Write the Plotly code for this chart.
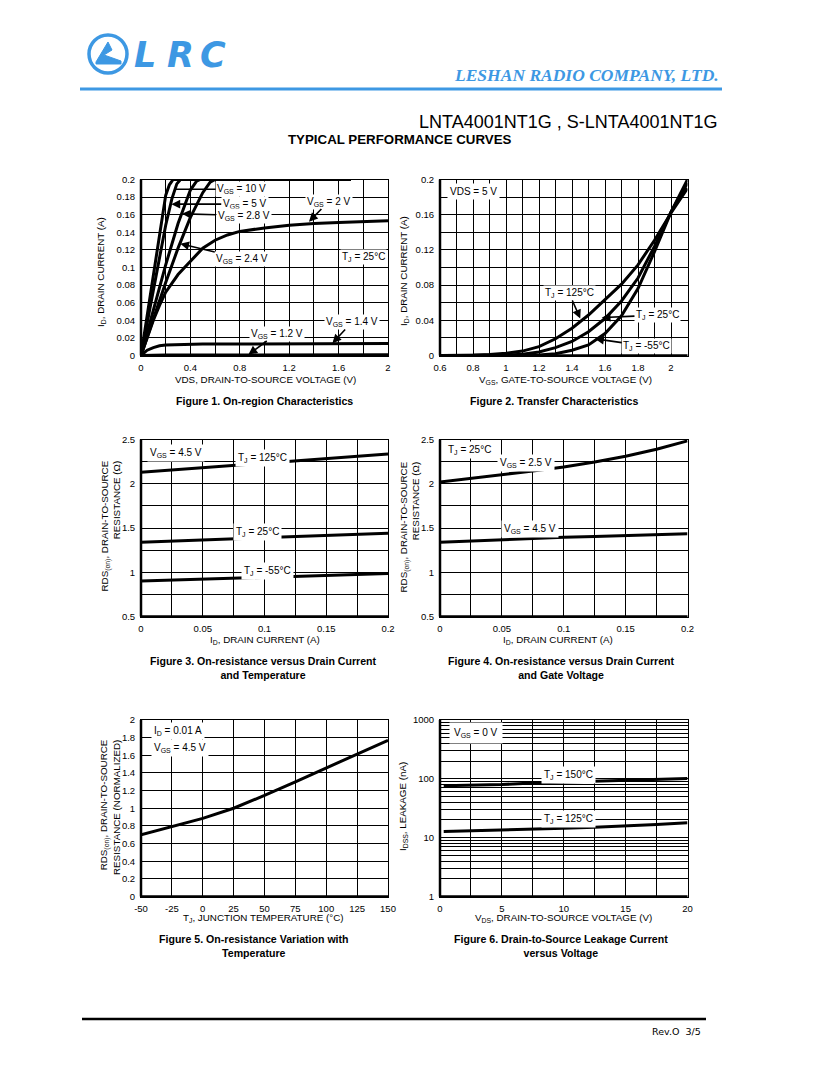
import plotly.graph_objects as go

W, H = 817, 1079
SANS = "Liberation Sans"
SERIF = "Liberation Serif"
BLUE = "#3d98e3"

# ---------------- data ----------------
# Figure 1: On-region characteristics (VDS [V] -> ID [A])
f1_vds_10v = [0, 0.1, 0.17, 0.2, 0.23, 0.26, 1.7]
f1_id_10v = [0, 0.092, 0.16, 0.182, 0.194, 0.2, 0.2]
f1_vds_5v = [0, 0.1, 0.2, 0.25, 0.29, 0.32, 1.7]
f1_id_5v = [0, 0.075, 0.148, 0.178, 0.195, 0.2, 0.2]
f1_vds_2v8 = [0, 0.1, 0.2, 0.3, 0.35, 0.4, 0.45, 0.48, 1.7]
f1_id_2v8 = [0, 0.052, 0.103, 0.15, 0.17, 0.188, 0.198, 0.2, 0.2]
f1_vds_2v4 = [0, 0.1, 0.2, 0.3, 0.4, 0.5, 0.56, 0.6, 1.7]
f1_id_2v4 = [0, 0.042, 0.083, 0.122, 0.157, 0.185, 0.197, 0.2, 0.2]
f1_vds_2v = [0, 0.05, 0.1, 0.15, 0.2, 0.3, 0.4, 0.5, 0.6, 0.7, 0.8, 1.0, 1.2, 1.4, 1.6, 1.8, 2.0]
f1_id_2v = [0, 0.02, 0.04, 0.057, 0.072, 0.092, 0.107, 0.122, 0.131, 0.137, 0.141, 0.145, 0.148, 0.15, 0.151, 0.152, 0.153]
f1_vds_1v4 = [0, 0.05, 0.1, 0.15, 0.2, 0.3, 0.5, 2.0]
f1_id_1v4 = [0, 0.006, 0.009, 0.011, 0.012, 0.0125, 0.013, 0.0135]
f1_vds_1v2 = [0, 0.2, 2.0]
f1_id_1v2 = [0, 0.0006, 0.0008]

# Figure 2: Transfer characteristics (VGS [V] -> ID [A])
f2_vgs = [0.6, 0.7, 0.8, 0.9, 1.0, 1.1, 1.2, 1.3, 1.4, 1.5, 1.6, 1.7, 1.8, 1.9, 2.0, 2.1]
f2_id_125 = [0, 0, 0.0003, 0.001, 0.0025, 0.005, 0.01, 0.019, 0.031, 0.046, 0.063, 0.081, 0.103, 0.131, 0.162, 0.19]
f2_id_25 = [0, 0, 0, 0.0001, 0.0005, 0.0015, 0.004, 0.009, 0.016, 0.027, 0.042, 0.062, 0.088, 0.124, 0.163, 0.196]
f2_id_m55 = [0, 0, 0, 0, 0, 0.0001, 0.0005, 0.002, 0.006, 0.012, 0.025, 0.045, 0.076, 0.118, 0.163, 0.2]

# Figure 3: RDS(on) vs ID and temperature
f3_id = [0, 0.05, 0.1, 0.15, 0.2]
f3_r_125 = [2.13, 2.18, 2.23, 2.28, 2.335]
f3_r_25 = [1.34, 1.365, 1.39, 1.415, 1.44]
f3_r_m55 = [0.9, 0.92, 0.94, 0.96, 0.985]

# Figure 4: RDS(on) vs ID and gate voltage
f4_id = [0, 0.025, 0.05, 0.075, 0.1, 0.125, 0.15, 0.175, 0.2]
f4_r_2v5 = [2.02, 2.06, 2.1, 2.145, 2.19, 2.245, 2.31, 2.39, 2.485]
f4_r_4v5 = [1.34, 1.355, 1.37, 1.385, 1.395, 1.405, 1.415, 1.425, 1.435]

# Figure 5: normalized RDS(on) vs temperature
f5_tj = [-50, -25, 0, 25, 50, 75, 100, 125, 150]
f5_r = [0.70, 0.79, 0.885, 1.0, 1.145, 1.3, 1.455, 1.61, 1.77]

# Figure 6: leakage vs VDS
f6_vds = [0.3, 2.5, 5, 7.5, 10, 12.5, 15, 17.5, 20]
f6_i_150 = [76, 77, 80, 85, 88, 90, 93, 97, 101]
f6_i_125 = [12.7, 13.0, 13.5, 14.0, 14.5, 15.1, 15.8, 16.8, 18.0]

# ---------------- ticks (labelled) and grid positions ----------------
f1_xtv = [0, 0.4, 0.8, 1.2, 1.6, 2.0]
f1_xtt = ["0", "0.4", "0.8", "1.2", "1.6", "2"]
f1_xgrid = [0.2, 0.6, 1.0, 1.4, 1.8]
f1_ytv = [0, 0.02, 0.04, 0.06, 0.08, 0.1, 0.12, 0.14, 0.16, 0.18, 0.2]
f1_ytt = ["0", "0.02", "0.04", "0.06", "0.08", "0.1", "0.12", "0.14", "0.16", "0.18", "0.2"]
f2_xtv = [0.6, 0.8, 1.0, 1.2, 1.4, 1.6, 1.8, 2.0]
f2_xtt = ["0.6", "0.8", "1", "1.2", "1.4", "1.6", "1.8", "2"]
f2_xgrid = [0.7, 0.9, 1.1, 1.3, 1.5, 1.7, 1.9, 2.1]
f2_ytv = [0, 0.04, 0.08, 0.12, 0.16, 0.2]
f2_ytt = ["0", "0.04", "0.08", "0.12", "0.16", "0.2"]
f2_ygrid = [0.02, 0.06, 0.1, 0.14, 0.18]
f34_xtv = [0, 0.05, 0.1, 0.15, 0.2]
f34_xtt = ["0", "0.05", "0.1", "0.15", "0.2"]
f34_xgrid = [0.025, 0.075, 0.125, 0.175]
f34_ytv = [0.5, 1.0, 1.5, 2.0, 2.5]
f34_ytt = ["0.5", "1", "1.5", "2", "2.5"]
f34_ygrid = [0.75, 1.25, 1.75, 2.25]
f5_xtv = [-50, -25, 0, 25, 50, 75, 100, 125, 150]
f5_xtt = ["-50", "-25", "0", "25", "50", "75", "100", "125", "150"]
f5_ytv = [0, 0.2, 0.4, 0.6, 0.8, 1.0, 1.2, 1.4, 1.6, 1.8, 2.0]
f5_ytt = ["0", "0.2", "0.4", "0.6", "0.8", "1", "1.2", "1.4", "1.6", "1.8", "2"]
f6_xtv = [0, 5, 10, 15, 20]
f6_xtt = ["0", "5", "10", "15", "20"]
f6_xgrid = [2.5, 7.5, 12.5, 17.5]
f6_ytv = [1, 10, 100, 1000]
f6_ytt = ["1", "10", "100", "1000"]
f6_ygrid = [m * d for d in (1, 10, 100) for m in range(2, 10)]


def PX(x):
    return x / W


def PY(y):
    return 1 - y / H


LX = [PX(141), PX(388)]
RX = [PX(440), PX(687.5)]
R1 = [PY(355.5), PY(179.5)]
R2 = [PY(616.5), PY(439.5)]
R3 = [PY(896.5), PY(720)]

fig = go.Figure()


def curve(ax, xs, ys):
    fig.add_trace(go.Scatter(x=xs, y=ys, mode="lines", xaxis="x" + ax, yaxis="y" + ax,
                             line=dict(color="black", width=3), showlegend=False,
                             hoverinfo="skip"))


curve("", f1_vds_10v, f1_id_10v)
curve("", f1_vds_5v, f1_id_5v)
curve("", f1_vds_2v8, f1_id_2v8)
curve("", f1_vds_2v4, f1_id_2v4)
curve("", f1_vds_2v, f1_id_2v)
curve("", f1_vds_1v4, f1_id_1v4)
curve("", f1_vds_1v2, f1_id_1v2)
curve("2", f2_vgs, f2_id_125)
curve("2", f2_vgs, f2_id_25)
curve("2", f2_vgs, f2_id_m55)
curve("3", f3_id, f3_r_125)
curve("3", f3_id, f3_r_25)
curve("3", f3_id, f3_r_m55)
curve("4", f4_id, f4_r_2v5)
curve("4", f4_id, f4_r_4v5)
curve("5", f5_tj, f5_r)
curve("6", f6_vds, f6_i_150)
curve("6", f6_vds, f6_i_125)


def axis(domain, rng, tv, tt, anchor, grid=None, typ="linear"):
    d = dict(domain=domain, range=rng, type=typ, tickmode="array", tickvals=tv, ticktext=tt,
             showgrid=True, gridcolor="black", gridwidth=1, zeroline=False,
             showline=True, linecolor="black", linewidth=1, mirror=True, ticks="",
             tickfont=dict(family=SANS, size=9.5, color="black"), anchor=anchor,
             fixedrange=True, automargin=False, ticklabelstandoff=3)
    if grid:
        d["minor"] = dict(tickmode="array", tickvals=grid, showgrid=True, gridcolor="black",
                          gridwidth=1, ticks="")
    return d


layout = dict(
    template="none",
    width=W, height=H, autosize=False,
    margin=dict(l=0, r=0, t=0, b=0, pad=0, autoexpand=False),
    paper_bgcolor="white", plot_bgcolor="white", showlegend=False,
    font=dict(family=SANS, color="black"),
    xaxis=axis(LX, [0, 2], f1_xtv, f1_xtt, "y", f1_xgrid),
    yaxis=axis(R1, [0, 0.2], f1_ytv, f1_ytt, "x"),
    xaxis2=axis(RX, [0.6, 2.1], f2_xtv, f2_xtt, "y2", f2_xgrid),
    yaxis2=axis(R1, [0, 0.2], f2_ytv, f2_ytt, "x2", f2_ygrid),
    xaxis3=axis(LX, [0, 0.2], f34_xtv, f34_xtt, "y3", f34_xgrid),
    yaxis3=axis(R2, [0.5, 2.5], f34_ytv, f34_ytt, "x3", f34_ygrid),
    xaxis4=axis(RX, [0, 0.2], f34_xtv, f34_xtt, "y4", f34_xgrid),
    yaxis4=axis(R2, [0.5, 2.5], f34_ytv, f34_ytt, "x4", f34_ygrid),
    xaxis5=axis(LX, [-50, 150], f5_xtv, f5_xtt, "y5"),
    yaxis5=axis(R3, [0, 2], f5_ytv, f5_ytt, "x5"),
    xaxis6=axis(RX, [0, 20], f6_xtv, f6_xtt, "y6", f6_xgrid),
    yaxis6=axis(R3, [0, 3], f6_ytv, f6_ytt, "x6", f6_ygrid, typ="log"),
)
fig.update_layout(**layout)

shapes = []
# thick left / bottom axis lines for each panel
for k in ["", "2", "3", "4", "5", "6"]:
    xr, yr = "x" + k + " domain", "y" + k + " domain"
    shapes.append(dict(type="line", xref=xr, yref=yr, x0=0, x1=0, y0=0, y1=1,
                       line=dict(color="black", width=2.5)))
    shapes.append(dict(type="line", xref=xr, yref=yr, x0=0, x1=1, y0=0, y1=0,
                       line=dict(color="black", width=2.5)))

# header rule and footer rule
shapes.append(dict(type="line", xref="paper", yref="paper", x0=PX(80), x1=PX(722),
                   y0=PY(89), y1=PY(89), line=dict(color=BLUE, width=3)))
shapes.append(dict(type="line", xref="paper", yref="paper", x0=PX(82), x1=PX(706),
                   y0=PY(1019), y1=PY(1019), line=dict(color="black", width=2.5)))
# logo ring
shapes.append(dict(type="circle", xref="paper", yref="paper", x0=PX(89), x1=PX(127),
                   y0=PY(73), y1=PY(35), line=dict(color=BLUE, width=3.5)))


def path(pts):
    return "M " + " L ".join(f"{PX(a):.5f},{PY(b):.5f}" for a, b in pts) + " Z"


shapes.append(dict(type="path", xref="paper", yref="paper",
                   path=path([(96, 62), (108, 42), (112, 50), (104, 55), (121, 61), (121, 64), (96, 64)]),
                   fillcolor=BLUE, line=dict(color=BLUE, width=1)))
fig.update_layout(shapes=shapes)

ann = []


def note(text, x, y, size=9.8, xanchor="center", yanchor="middle", angle=0, align="center",
         family=SANS, color="black"):
    ann.append(dict(text=text, x=PX(x), y=PY(y), xref="paper", yref="paper", showarrow=False,
                    xanchor=xanchor, yanchor=yanchor, textangle=angle, align=align,
                    font=dict(family=family, size=size, color=color)))


def lab(k, text, x, y, head=None, arrowhead=2, pad=1):
    xr, yr = "x" + k, "y" + k
    d = dict(text=text, xref=xr, yref=yr, bgcolor="white", borderpad=pad,
             font=dict(family=SANS, size=10, color="black"))
    if head is None:
        d.update(x=x, y=y, showarrow=False)
    else:
        d.update(x=head[0], y=head[1], ax=x, ay=y, axref=xr, ayref=yr, showarrow=True,
                 arrowhead=arrowhead, arrowsize=1.1, arrowwidth=1.6, arrowcolor="black",
                 standoff=0)
    ann.append(d)


# header
for ch, cx in (("L", 145), ("R", 180), ("C", 213)):
    note("<b><i>" + ch + "</i></b>", cx, 55, size=35, family="DejaVu Sans", color=BLUE)
note("<b><i>LESHAN RADIO COMPANY, LTD.</i></b>", 721, 75, size=17.5, xanchor="right",
     family=SERIF, color=BLUE)
note("LNTA4001NT1G , S-LNTA4001NT1G", 719, 122, size=18, xanchor="right")
note("<b>TYPICAL PERFORMANCE CURVES</b>", 399, 139, size=13.3)
note("Rev.O  3/5", 703, 1031, size=9.5, xanchor="right", family="DejaVu Sans")

# Figure 1 labels
lab("", "V<sub>GS</sub> = 10 V", 0.815, 0.189, head=(0.27, 0.189), arrowhead=0)
lab("", "V<sub>GS</sub> = 5 V", 0.84, 0.172, head=(0.246, 0.172))
lab("", "V<sub>GS</sub> = 2.8 V", 0.83, 0.159, head=(0.332, 0.161))
lab("", "V<sub>GS</sub> = 2.4 V", 0.82, 0.11, head=(0.318, 0.127))
lab("", "V<sub>GS</sub> = 2 V", 1.52, 0.175, head=(1.36, 0.152))
lab("", "T<sub>J</sub> = 25°C", 1.8, 0.112)
lab("", "V<sub>GS</sub> = 1.4 V", 1.71, 0.038, head=(1.55, 0.014))
lab("", "V<sub>GS</sub> = 1.2 V", 1.1, 0.025, head=(0.87, 0.001))
# Figure 2 labels
lab("2", "VDS = 5 V", 0.806, 0.186, pad=2)
lab("2", "T<sub>J</sub> = 125°C", 1.382, 0.071, head=(1.45, 0.042))
lab("2", "T<sub>J</sub> = 25°C", 1.918, 0.046, head=(1.58, 0.043))
lab("2", "T<sub>J</sub> = -55°C", 1.853, 0.0106, head=(1.54, 0.019))
# Figure 3 labels
lab("3", "V<sub>GS</sub> = 4.5 V", 0.0285, 2.35, pad=2)
lab("3", "T<sub>J</sub> = 125°C", 0.0986, 2.293, pad=2)
lab("3", "T<sub>J</sub> = 25°C", 0.0946, 1.451, pad=2)
lab("3", "T<sub>J</sub> = -55°C", 0.1027, 1.009, pad=2)
# Figure 4 labels
lab("4", "T<sub>J</sub> = 25°C", 0.0235, 2.38, pad=2)
lab("4", "V<sub>GS</sub> = 2.5 V", 0.0695, 2.229, pad=2)
lab("4", "V<sub>GS</sub> = 4.5 V", 0.0728, 1.485, pad=2)
# Figure 5 labels
lab("5", "I<sub>D</sub> = 0.01 A", -20.1, 1.878, pad=2)
lab("5", "V<sub>GS</sub> = 4.5 V", -18.8, 1.678, pad=2)
# Figure 6 labels (log axis -> log10 of value)
lab("6", "V<sub>GS</sub> = 0 V", 2.92, 2.785, pad=4)
lab("6", "T<sub>J</sub> = 150°C", 10.4, 2.066, pad=2)
lab("6", "T<sub>J</sub> = 125°C", 10.4, 1.314, pad=2)

# axis titles
note("VDS, DRAIN-TO-SOURCE VOLTAGE (V)", 265, 380)
note("V<sub>GS</sub>, GATE-TO-SOURCE VOLTAGE (V)", 565, 380)
note("I<sub>D</sub>, DRAIN CURRENT (A)", 265, 640)
note("I<sub>D</sub>, DRAIN CURRENT (A)", 558, 640)
note("T<sub>J</sub>, JUNCTION TEMPERATURE (°C)", 263, 918)
note("V<sub>DS</sub>, DRAIN-TO-SOURCE VOLTAGE (V)", 563, 918)

note("I<sub>D</sub>, DRAIN CURRENT (A)", 101, 272, angle=-90)
note("I<sub>D</sub>, DRAIN CURRENT (A)", 404, 271, angle=-90)
note("RDS<sub>(on)</sub>, DRAIN-TO-SOURCE<br>RESISTANCE (Ω)", 110, 459, angle=-90,
     yanchor="top", align="right")
note("RDS<sub>(on)</sub>, DRAIN-TO-SOURCE<br>RESISTANCE (Ω)", 409, 460, angle=-90,
     yanchor="top", align="right")
note("RDS<sub>(on)</sub>, DRAIN-TO-SOURCE<br>RESISTANCE (NORMALIZED)", 110, 737, angle=-90,
     yanchor="top", align="right")
note("I<sub>DSS</sub>, LEAKAGE (nA)", 403, 807, angle=-90)

# captions
note("<b>Figure 1. On-region Characteristics</b>", 264, 401, size=10.6)
note("<b>Figure 2. Transfer Characteristics</b>", 554, 401, size=10.6)
note("<b>Figure 3. On-resistance versus Drain Current<br>and Temperature</b>", 263, 668, size=10.6)
note("<b>Figure 4. On-resistance versus Drain Current<br>and Gate Voltage</b>", 561, 668, size=10.6)
note("<b>Figure 5. On-resistance Variation with<br>Temperature</b>", 254, 946, size=10.6)
note("<b>Figure 6. Drain-to-Source Leakage Current<br>versus Voltage</b>", 561, 946, size=10.6)

fig.update_layout(annotations=ann)
fig.write_html("out.html", config={"displayModeBar": False},
               post_script="document.body.style.margin='0px';document.body.style.overflow='hidden';")
